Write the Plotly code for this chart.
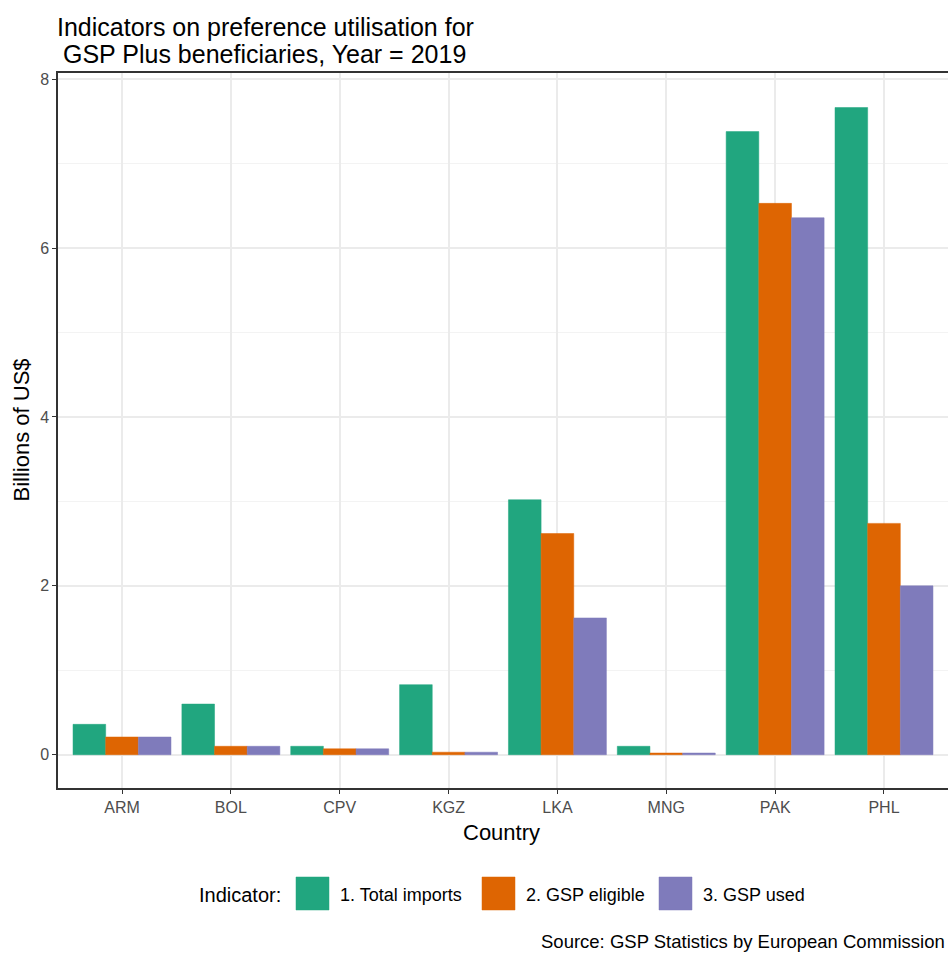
import plotly.graph_objects as go

countries = ["ARM", "BOL", "CPV", "KGZ", "LKA", "MNG", "PAK", "PHL"]
total_imports = [0.36, 0.60, 0.10, 0.83, 3.02, 0.10, 7.38, 7.665]
gsp_eligible = [0.21, 0.10, 0.07, 0.03, 2.62, 0.02, 6.53, 2.74]
gsp_used = [0.21, 0.10, 0.07, 0.03, 1.62, 0.02, 6.36, 2.00]
series_names = ["1. Total imports", "2. GSP eligible", "3. GSP used"]
series_values = [total_imports, gsp_eligible, gsp_used]
colors = ["#21A67F", "#DE6502", "#7F7BBB"]
y_ticks = [0, 2, 4, 6, 8]

FONT = "Liberation Sans, Arial, sans-serif"
OFF = 0  # page body margin is removed, figure starts at screen pixel 0,0
SCREEN_W, SCREEN_H = 948, 954
W, H = SCREEN_W - OFF, SCREEN_H - OFF
# plot area in screen pixels: left 58, top 73, right 948, bottom 788
L, T = 58 - OFF, 73 - OFF
R = 0
B = H - (788 - OFF)
PW, PH = W - L - R, H - T - B


def px_x(sx):
    return (sx - OFF - L) / PW


def px_y(sy):
    return (H - B - (sy - OFF)) / PH


fig = go.Figure()
for name, vals, c in zip(series_names, series_values, colors):
    fig.add_trace(go.Bar(
        x=countries, y=vals, name=name, showlegend=False,
        marker=dict(color=c, line=dict(color=c, width=0.5)),
    ))

fig.update_layout(
    width=W, height=H,
    margin=dict(l=L, r=R, t=T, b=B, autoexpand=False),
    paper_bgcolor="white", plot_bgcolor="white",
    barmode="group", bargap=0.1, bargroupgap=0,
    showlegend=False,
    xaxis=dict(
        range=[-0.588, 7.588],
        showgrid=True, gridcolor="#ebebeb", gridwidth=1.5,
        showline=True, mirror=True, linecolor="#333333", linewidth=1.5,
        ticks="outside", ticklen=4, tickcolor="#333333",
        tickfont=dict(family=FONT, size=16, color="#4d4d4d"),
        zeroline=False,
    ),
    yaxis=dict(
        range=[-0.394, 8.074],
        tickvals=y_ticks, ticktext=[str(v) for v in y_ticks],
        showgrid=True, gridcolor="#ebebeb", gridwidth=1.5,
        minor=dict(dtick=1, tick0=0, showgrid=True, gridcolor="#f3f3f3", gridwidth=1),
        showline=True, mirror=False, linecolor="#333333", linewidth=1.5,
        ticks="outside", ticklen=4, tickcolor="#333333",
        tickfont=dict(family=FONT, size=16, color="#4d4d4d"),
        zeroline=False,
    ),
)

# Title (two lines)
fig.add_annotation(
    text="Indicators on preference utilisation for",
    xref="paper", yref="paper", x=px_x(58), y=px_y(27), xanchor="left", yanchor="middle",
    xshift=-3, showarrow=False,
    font=dict(family=FONT, size=25, color="#000000"),
)
fig.add_annotation(
    text="GSP Plus beneficiaries, Year = 2019",
    xref="paper", yref="paper", x=px_x(64), y=px_y(54), xanchor="left", yanchor="middle",
    xshift=-3, showarrow=False,
    font=dict(family=FONT, size=25, color="#000000"),
)

# Axis titles
fig.add_annotation(
    text="Country", xref="paper", yref="paper", x=px_x(501), y=px_y(832),
    xanchor="center", yanchor="middle", showarrow=False,
    font=dict(family=FONT, size=22, color="#000000"),
)
fig.add_annotation(
    text="Billions of US$", xref="paper", yref="paper", x=px_x(21), y=0.5,
    xanchor="center", yanchor="middle", textangle=-90, showarrow=False,
    font=dict(family=FONT, size=22, color="#000000"),
)

# Legend (drawn as shapes + text)
fig.add_annotation(
    text="Indicator:", xref="paper", yref="paper", x=px_x(283), y=px_y(895),
    xanchor="right", yanchor="middle", showarrow=False,
    font=dict(family=FONT, size=20, color="#000000"),
)
sw_left = [296, 482, 659]
for name, c, x0 in zip(series_names, colors, sw_left):
    fig.add_shape(
        type="rect", xref="paper", yref="paper",
        x0=px_x(x0), x1=px_x(x0 + 33), y0=px_y(910), y1=px_y(877),
        fillcolor=c, line=dict(color=c, width=0.5), layer="above",
    )
    fig.add_annotation(
        text=name, xref="paper", yref="paper", x=px_x(x0 + 42), y=px_y(895),
        xanchor="left", yanchor="middle", showarrow=False,
        font=dict(family=FONT, size=18, color="#000000"),
    )

# Source caption
fig.add_annotation(
    text="Source: GSP Statistics by European Commission",
    xref="paper", yref="paper", x=px_x(947), y=px_y(941), xanchor="right", yanchor="middle",
    showarrow=False,
    font=dict(family=FONT, size=18.5, color="#000000"),
)

fig.write_html(
    "out.html",
    config={"displayModeBar": False},
    post_script="document.body.style.margin='0px'; document.body.style.overflow='hidden';",
)
